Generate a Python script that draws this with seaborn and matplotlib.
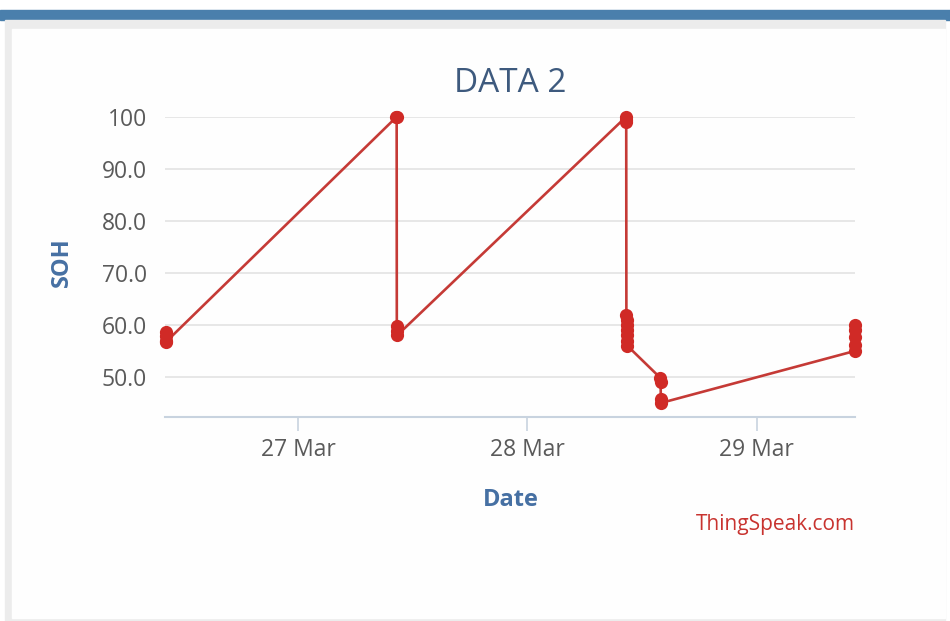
import matplotlib
matplotlib.use("Agg")
import matplotlib.pyplot as plt
import matplotlib.dates as mdates
from matplotlib.patches import Rectangle
from matplotlib.ticker import FuncFormatter
import pandas as pd
import seaborn as sns

# readings taken off the chart
times = [
    "2019-03-26 10:10", "2019-03-26 10:11", "2019-03-26 10:12", "2019-03-26 10:13",
    "2019-03-27 10:18", "2019-03-27 10:19",
    "2019-03-27 10:20", "2019-03-27 10:21", "2019-03-27 10:22",
    "2019-03-28 10:18", "2019-03-28 10:19", "2019-03-28 10:20",
    "2019-03-28 10:21", "2019-03-28 10:22", "2019-03-28 10:23", "2019-03-28 10:24",
    "2019-03-28 10:25", "2019-03-28 10:26", "2019-03-28 10:27",
    "2019-03-28 13:55", "2019-03-28 13:56", "2019-03-28 13:57", "2019-03-28 13:58",
    "2019-03-29 10:15", "2019-03-29 10:16", "2019-03-29 10:17", "2019-03-29 10:18", "2019-03-29 10:19",
]
soh = [
    58.6, 57.8, 57.0, 56.8,
    100, 100,
    59.8, 58.8, 58.0,
    100, 99.5, 99.0,
    62.0, 61.0, 60.0, 59.0, 58.0, 57.0, 56.0,
    49.8, 49.0, 45.8, 45.0,
    55.0, 56.2, 57.6, 59.0, 60.0,
]
tick_days = ["2019-03-27", "2019-03-28", "2019-03-29"]

df = pd.DataFrame({"Date": pd.to_datetime(times), "SOH": soh})

sns.set_style("white")
plt.rcParams["font.family"] = ["Open Sans", "DejaVu Sans"]
fig = plt.figure(figsize=(9.5, 6.21), dpi=100)

# page frame: blue strip, grey border, white panel
fig.patches.append(Rectangle((0, 0.968), 1, 0.016, transform=fig.transFigure,
                             color="#4a7fac", zorder=-3))
fig.patches.append(Rectangle((0.005, 0.0), 0.99, 0.968, transform=fig.transFigure,
                             color="#ececec", zorder=-2))
fig.patches.append(Rectangle((0.013, 0.005), 0.982, 0.948, transform=fig.transFigure,
                             color="#fefefe", zorder=-1))

ax = fig.add_axes([0.1737, 0.3285, 0.7263, 0.4831], zorder=2)
ax.set_facecolor("none")

sns.lineplot(data=df, x="Date", y="SOH", sort=False, estimator=None, ax=ax,
             color="#c53a36", linewidth=1.9, marker="o", markersize=9.5,
             markeredgewidth=0, markerfacecolor="#d02a26", clip_on=False, zorder=3)

ax.set_ylim(42.3, 100)
ax.set_xlim(pd.Timestamp("2019-03-26 10:05"), pd.Timestamp("2019-03-29 10:16"))
ax.set_yticks([50, 60, 70, 80, 90, 100])
ax.yaxis.set_major_formatter(FuncFormatter(lambda v, p: "100" if v >= 100 else f"{v:.1f}"))
ax.set_xticks(pd.to_datetime(tick_days))
ax.xaxis.set_major_formatter(mdates.DateFormatter("%d %b"))

ax.grid(axis="y", color="#e3e3e3", linewidth=1.2)
for s in ["top", "right", "left"]:
    ax.spines[s].set_visible(False)
ax.spines["bottom"].set_color("#c8d3df")
ax.spines["bottom"].set_linewidth(1.5)
ax.tick_params(axis="x", length=10, width=1.2, color="#c8d3df", colors="#5a5a5a",
               labelsize=16.5, pad=5)
ax.tick_params(axis="x", bottom=True)
ax.tick_params(axis="y", length=0, colors="#5a5a5a", labelsize=16.5, pad=13)

ax.set_title("DATA 2", fontsize=24, color="#3e5a7e", y=1.113, va="center", pad=0)
ax.set_xlabel("Date", fontsize=17, fontweight="bold", color="#4670a3", va="center")
ax.set_ylabel("SOH", fontsize=17, fontweight="bold", color="#4670a3", va="center")
ax.xaxis.set_label_coords(0.501, -0.277)
ax.yaxis.set_label_coords(-0.149, 0.517)

fig.text(0.9, 0.155, "ThingSpeak.com", ha="right", va="center",
         fontsize=15, color="#c8332f")

fig.savefig("out.png", dpi=100)
